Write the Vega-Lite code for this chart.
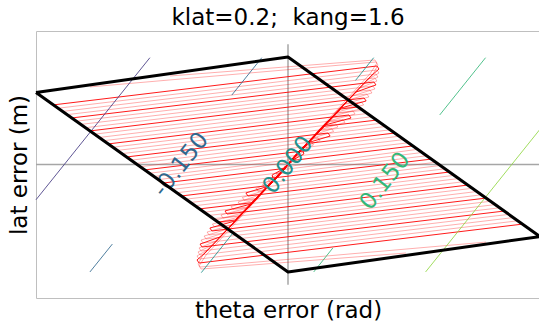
{
  "$schema": "https://vega.github.io/schema/vega-lite/v6.json",
  "width": 504,
  "height": 267,
  "autosize": "none",
  "padding": {"left": 36, "top": 31, "right": 0, "bottom": 32},
  "title": {"text": "klat=0.2; \u00a0kang=1.6", "font": "DejaVu Sans", "fontSize": 23, "fontWeight": "normal", "color": "black", "anchor": "middle", "baseline": "alphabetic", "offset": 8, "dy": 25},
  "config": {
    "view": {"stroke": "#bfbfbf", "strokeWidth": 1},
    "axis": {"grid": false, "ticks": false, "labels": false, "domain": false, "titleFont": "DejaVu Sans", "titleFontSize": 23, "titleFontWeight": "normal", "titleColor": "black"},
    "axisX": {"titlePadding": 1},
    "axisY": {"titlePadding": 5}
  },
  "datasets": {
    "axes": [
      {"x": -1, "x2": 1, "y": 0, "y2": 0},
      {"x": 0, "x2": 0, "y": -0.9, "y2": 0.9}
    ],
    "main": [
      {"id": "T0", "o": 0, "x": -0.933, "y": 0.446}, {"id": "T0", "o": 1, "x": 0.353, "y": 0.738}, {"id": "T0", "o": 2, "x": 0.361, "y": 0.715}, {"id": "T0", "o": 3, "x": 0.329, "y": 0.663}, {"id": "T0", "o": 4, "x": 0.020, "y": 0.049}, {"id": "T0", "o": 5, "x": 0, "y": 0},
      {"id": "T1", "o": 0, "x": -0.861, "y": 0.348}, {"id": "T1", "o": 1, "x": 0.341, "y": 0.618}, {"id": "T1", "o": 2, "x": 0.349, "y": 0.596}, {"id": "T1", "o": 3, "x": 0.270, "y": 0.543}, {"id": "T1", "o": 4, "x": 0.020, "y": 0.049}, {"id": "T1", "o": 5, "x": 0, "y": 0},
      {"id": "T2", "o": 0, "x": -0.788, "y": 0.251}, {"id": "T2", "o": 1, "x": 0.302, "y": 0.498}, {"id": "T2", "o": 2, "x": 0.310, "y": 0.476}, {"id": "T2", "o": 3, "x": 0.210, "y": 0.423}, {"id": "T2", "o": 4, "x": 0.020, "y": 0.049}, {"id": "T2", "o": 5, "x": 0, "y": 0},
      {"id": "T3", "o": 0, "x": -0.714, "y": 0.154}, {"id": "T3", "o": 1, "x": 0.242, "y": 0.371}, {"id": "T3", "o": 2, "x": 0.250, "y": 0.348}, {"id": "T3", "o": 3, "x": 0.147, "y": 0.296}, {"id": "T3", "o": 4, "x": 0.020, "y": 0.049}, {"id": "T3", "o": 5, "x": 0, "y": 0},
      {"id": "T4", "o": 0, "x": -0.643, "y": 0.056}, {"id": "T4", "o": 1, "x": 0.159, "y": 0.236}, {"id": "T4", "o": 2, "x": 0.167, "y": 0.213}, {"id": "T4", "o": 3, "x": 0.075, "y": 0.161}, {"id": "T4", "o": 4, "x": 0.020, "y": 0.049}, {"id": "T4", "o": 5, "x": 0, "y": 0},
      {"id": "T5", "o": 0, "x": -0.571, "y": -0.041}, {"id": "T5", "o": 1, "x": 0.060, "y": 0.101}, {"id": "T5", "o": 2, "x": 0.063, "y": 0.079}, {"id": "T5", "o": 3, "x": 0.012, "y": 0.026}, {"id": "T5", "o": 4, "x": 0, "y": 0},
      {"id": "T6", "o": 0, "x": -0.496, "y": -0.139}, {"id": "T6", "o": 1, "x": -0.016, "y": -0.030}, {"id": "T6", "o": 2, "x": 0, "y": 0},
      {"id": "T7", "o": 0, "x": -0.425, "y": -0.236}, {"id": "T7", "o": 1, "x": -0.079, "y": -0.158}, {"id": "T7", "o": 2, "x": 0, "y": 0},
      {"id": "T8", "o": 0, "x": -0.353, "y": -0.333}, {"id": "T8", "o": 1, "x": -0.143, "y": -0.286}, {"id": "T8", "o": 2, "x": 0, "y": 0},
      {"id": "T9", "o": 0, "x": -0.278, "y": -0.431}, {"id": "T9", "o": 1, "x": -0.210, "y": -0.416}, {"id": "T9", "o": 2, "x": 0, "y": 0},
      {"id": "R0", "o": 0, "x": 0.933, "y": -0.446}, {"id": "R0", "o": 1, "x": -0.353, "y": -0.738}, {"id": "R0", "o": 2, "x": -0.361, "y": -0.715}, {"id": "R0", "o": 3, "x": -0.329, "y": -0.663}, {"id": "R0", "o": 4, "x": -0.020, "y": -0.049}, {"id": "R0", "o": 5, "x": 0, "y": 0},
      {"id": "R1", "o": 0, "x": 0.861, "y": -0.348}, {"id": "R1", "o": 1, "x": -0.341, "y": -0.618}, {"id": "R1", "o": 2, "x": -0.349, "y": -0.596}, {"id": "R1", "o": 3, "x": -0.270, "y": -0.543}, {"id": "R1", "o": 4, "x": -0.020, "y": -0.049}, {"id": "R1", "o": 5, "x": 0, "y": 0},
      {"id": "R2", "o": 0, "x": 0.788, "y": -0.251}, {"id": "R2", "o": 1, "x": -0.302, "y": -0.498}, {"id": "R2", "o": 2, "x": -0.310, "y": -0.476}, {"id": "R2", "o": 3, "x": -0.210, "y": -0.423}, {"id": "R2", "o": 4, "x": -0.020, "y": -0.049}, {"id": "R2", "o": 5, "x": 0, "y": 0},
      {"id": "R3", "o": 0, "x": 0.714, "y": -0.154}, {"id": "R3", "o": 1, "x": -0.242, "y": -0.371}, {"id": "R3", "o": 2, "x": -0.250, "y": -0.348}, {"id": "R3", "o": 3, "x": -0.147, "y": -0.296}, {"id": "R3", "o": 4, "x": -0.020, "y": -0.049}, {"id": "R3", "o": 5, "x": 0, "y": 0},
      {"id": "R4", "o": 0, "x": 0.643, "y": -0.056}, {"id": "R4", "o": 1, "x": -0.159, "y": -0.236}, {"id": "R4", "o": 2, "x": -0.167, "y": -0.213}, {"id": "R4", "o": 3, "x": -0.075, "y": -0.161}, {"id": "R4", "o": 4, "x": -0.020, "y": -0.049}, {"id": "R4", "o": 5, "x": 0, "y": 0},
      {"id": "R5", "o": 0, "x": 0.571, "y": 0.041}, {"id": "R5", "o": 1, "x": -0.060, "y": -0.101}, {"id": "R5", "o": 2, "x": -0.063, "y": -0.079}, {"id": "R5", "o": 3, "x": -0.012, "y": -0.026}, {"id": "R5", "o": 4, "x": 0, "y": 0},
      {"id": "R6", "o": 0, "x": 0.496, "y": 0.139}, {"id": "R6", "o": 1, "x": 0.016, "y": 0.030}, {"id": "R6", "o": 2, "x": 0, "y": 0},
      {"id": "R7", "o": 0, "x": 0.425, "y": 0.236}, {"id": "R7", "o": 1, "x": 0.079, "y": 0.158}, {"id": "R7", "o": 2, "x": 0, "y": 0},
      {"id": "R8", "o": 0, "x": 0.353, "y": 0.333}, {"id": "R8", "o": 1, "x": 0.143, "y": 0.286}, {"id": "R8", "o": 2, "x": 0, "y": 0},
      {"id": "R9", "o": 0, "x": 0.278, "y": 0.431}, {"id": "R9", "o": 1, "x": 0.210, "y": 0.416}, {"id": "R9", "o": 2, "x": 0, "y": 0}
    ],
    "light": [
      {"id": "L01", "o": 0, "x": -0.915, "y": 0.421}, {"id": "L01", "o": 1, "x": 0.353, "y": 0.708}, {"id": "L01", "o": 2, "x": 0.361, "y": 0.685}, {"id": "L01", "o": 3, "x": 0.313, "y": 0.633}, {"id": "L01", "o": 4, "x": 0.020, "y": 0.049}, {"id": "L01", "o": 5, "x": 0, "y": 0},
      {"id": "L02", "o": 0, "x": -0.897, "y": 0.397}, {"id": "L02", "o": 1, "x": 0.349, "y": 0.678}, {"id": "L02", "o": 2, "x": 0.357, "y": 0.655}, {"id": "L02", "o": 3, "x": 0.300, "y": 0.603}, {"id": "L02", "o": 4, "x": 0.020, "y": 0.049}, {"id": "L02", "o": 5, "x": 0, "y": 0},
      {"id": "L03", "o": 0, "x": -0.879, "y": 0.373}, {"id": "L03", "o": 1, "x": 0.345, "y": 0.648}, {"id": "L03", "o": 2, "x": 0.353, "y": 0.625}, {"id": "L03", "o": 3, "x": 0.284, "y": 0.573}, {"id": "L03", "o": 4, "x": 0.020, "y": 0.049}, {"id": "L03", "o": 5, "x": 0, "y": 0},
      {"id": "L11", "o": 0, "x": -0.842, "y": 0.324}, {"id": "L11", "o": 1, "x": 0.337, "y": 0.588}, {"id": "L11", "o": 2, "x": 0.345, "y": 0.566}, {"id": "L11", "o": 3, "x": 0.254, "y": 0.513}, {"id": "L11", "o": 4, "x": 0.020, "y": 0.049}, {"id": "L11", "o": 5, "x": 0, "y": 0},
      {"id": "L12", "o": 0, "x": -0.824, "y": 0.300}, {"id": "L12", "o": 1, "x": 0.325, "y": 0.558}, {"id": "L12", "o": 2, "x": 0.333, "y": 0.536}, {"id": "L12", "o": 3, "x": 0.239, "y": 0.483}, {"id": "L12", "o": 4, "x": 0.020, "y": 0.049}, {"id": "L12", "o": 5, "x": 0, "y": 0},
      {"id": "L13", "o": 0, "x": -0.806, "y": 0.275}, {"id": "L13", "o": 1, "x": 0.313, "y": 0.528}, {"id": "L13", "o": 2, "x": 0.321, "y": 0.506}, {"id": "L13", "o": 3, "x": 0.224, "y": 0.453}, {"id": "L13", "o": 4, "x": 0.020, "y": 0.049}, {"id": "L13", "o": 5, "x": 0, "y": 0},
      {"id": "L21", "o": 0, "x": -0.769, "y": 0.227}, {"id": "L21", "o": 1, "x": 0.292, "y": 0.468}, {"id": "L21", "o": 2, "x": 0.300, "y": 0.446}, {"id": "L21", "o": 3, "x": 0.194, "y": 0.393}, {"id": "L21", "o": 4, "x": 0.020, "y": 0.049}, {"id": "L21", "o": 5, "x": 0, "y": 0},
      {"id": "L22", "o": 0, "x": -0.751, "y": 0.202}, {"id": "L22", "o": 1, "x": 0.278, "y": 0.438}, {"id": "L22", "o": 2, "x": 0.286, "y": 0.416}, {"id": "L22", "o": 3, "x": 0.179, "y": 0.363}, {"id": "L22", "o": 4, "x": 0.020, "y": 0.049}, {"id": "L22", "o": 5, "x": 0, "y": 0},
      {"id": "L23", "o": 0, "x": -0.733, "y": 0.178}, {"id": "L23", "o": 1, "x": 0.258, "y": 0.401}, {"id": "L23", "o": 2, "x": 0.266, "y": 0.378}, {"id": "L23", "o": 3, "x": 0.160, "y": 0.326}, {"id": "L23", "o": 4, "x": 0.020, "y": 0.049}, {"id": "L23", "o": 5, "x": 0, "y": 0},
      {"id": "L31", "o": 0, "x": -0.697, "y": 0.129}, {"id": "L31", "o": 1, "x": 0.218, "y": 0.337}, {"id": "L31", "o": 2, "x": 0.226, "y": 0.315}, {"id": "L31", "o": 3, "x": 0.127, "y": 0.262}, {"id": "L31", "o": 4, "x": 0.020, "y": 0.049}, {"id": "L31", "o": 5, "x": 0, "y": 0},
      {"id": "L32", "o": 0, "x": -0.679, "y": 0.105}, {"id": "L32", "o": 1, "x": 0.190, "y": 0.303}, {"id": "L32", "o": 2, "x": 0.198, "y": 0.281}, {"id": "L32", "o": 3, "x": 0.111, "y": 0.228}, {"id": "L32", "o": 4, "x": 0.020, "y": 0.049}, {"id": "L32", "o": 5, "x": 0, "y": 0},
      {"id": "L33", "o": 0, "x": -0.660, "y": 0.081}, {"id": "L33", "o": 1, "x": 0.173, "y": 0.270}, {"id": "L33", "o": 2, "x": 0.181, "y": 0.247}, {"id": "L33", "o": 3, "x": 0.094, "y": 0.195}, {"id": "L33", "o": 4, "x": 0.020, "y": 0.049}, {"id": "L33", "o": 5, "x": 0, "y": 0},
      {"id": "L41", "o": 0, "x": -0.624, "y": 0.032}, {"id": "L41", "o": 1, "x": 0.119, "y": 0.202}, {"id": "L41", "o": 2, "x": 0.127, "y": 0.180}, {"id": "L41", "o": 3, "x": 0.060, "y": 0.127}, {"id": "L41", "o": 4, "x": 0, "y": 0},
      {"id": "L42", "o": 0, "x": -0.606, "y": 0.007}, {"id": "L42", "o": 1, "x": 0.093, "y": 0.169}, {"id": "L42", "o": 2, "x": 0.101, "y": 0.146}, {"id": "L42", "o": 3, "x": 0.043, "y": 0.094}, {"id": "L42", "o": 4, "x": 0, "y": 0},
      {"id": "L43", "o": 0, "x": -0.588, "y": -0.017}, {"id": "L43", "o": 1, "x": 0.071, "y": 0.135}, {"id": "L43", "o": 2, "x": 0.079, "y": 0.112}, {"id": "L43", "o": 3, "x": 0.026, "y": 0.060}, {"id": "L43", "o": 4, "x": 0, "y": 0},
      {"id": "L51", "o": 0, "x": -0.552, "y": -0.066}, {"id": "L51", "o": 1, "x": 0.048, "y": 0.071}, {"id": "L51", "o": 2, "x": 0, "y": 0},
      {"id": "L52", "o": 0, "x": -0.533, "y": -0.090}, {"id": "L52", "o": 1, "x": 0.032, "y": 0.041}, {"id": "L52", "o": 2, "x": 0, "y": 0},
      {"id": "L53", "o": 0, "x": -0.516, "y": -0.114}, {"id": "L53", "o": 1, "x": 0.016, "y": 0.019}, {"id": "L53", "o": 2, "x": 0, "y": 0},
      {"id": "L61", "o": 0, "x": -0.479, "y": -0.163}, {"id": "L61", "o": 1, "x": -0.031, "y": -0.062}, {"id": "L61", "o": 2, "x": 0, "y": 0},
      {"id": "L62", "o": 0, "x": -0.461, "y": -0.187}, {"id": "L62", "o": 1, "x": -0.047, "y": -0.094}, {"id": "L62", "o": 2, "x": 0, "y": 0},
      {"id": "L63", "o": 0, "x": -0.443, "y": -0.212}, {"id": "L63", "o": 1, "x": -0.063, "y": -0.126}, {"id": "L63", "o": 2, "x": 0, "y": 0},
      {"id": "L71", "o": 0, "x": -0.406, "y": -0.260}, {"id": "L71", "o": 1, "x": -0.096, "y": -0.190}, {"id": "L71", "o": 2, "x": 0, "y": 0},
      {"id": "L72", "o": 0, "x": -0.388, "y": -0.285}, {"id": "L72", "o": 1, "x": -0.112, "y": -0.222}, {"id": "L72", "o": 2, "x": 0, "y": 0},
      {"id": "L73", "o": 0, "x": -0.370, "y": -0.309}, {"id": "L73", "o": 1, "x": -0.128, "y": -0.254}, {"id": "L73", "o": 2, "x": 0, "y": 0},
      {"id": "L81", "o": 0, "x": -0.334, "y": -0.358}, {"id": "L81", "o": 1, "x": -0.160, "y": -0.318}, {"id": "L81", "o": 2, "x": 0, "y": 0},
      {"id": "L82", "o": 0, "x": -0.315, "y": -0.382}, {"id": "L82", "o": 1, "x": -0.176, "y": -0.351}, {"id": "L82", "o": 2, "x": 0, "y": 0},
      {"id": "L83", "o": 0, "x": -0.297, "y": -0.406}, {"id": "L83", "o": 1, "x": -0.192, "y": -0.383}, {"id": "L83", "o": 2, "x": 0, "y": 0},
      {"id": "E1", "o": 0, "x": -0.786, "y": 0.581}, {"id": "E1", "o": 1, "x": 0.349, "y": 0.768}, {"id": "E1", "o": 2, "x": 0.357, "y": 0.745}, {"id": "E1", "o": 3, "x": 0.333, "y": 0.663}, {"id": "E1", "o": 4, "x": 0.020, "y": 0.049}, {"id": "E1", "o": 5, "x": 0, "y": 0},
      {"id": "E2", "o": 0, "x": -0.468, "y": 0.663}, {"id": "E2", "o": 1, "x": 0.345, "y": 0.783}, {"id": "E2", "o": 2, "x": 0.353, "y": 0.760}, {"id": "E2", "o": 3, "x": 0.325, "y": 0.678}, {"id": "E2", "o": 4, "x": 0.020, "y": 0.049}, {"id": "E2", "o": 5, "x": 0, "y": 0},
      {"id": "M01", "o": 0, "x": 0.915, "y": -0.421}, {"id": "M01", "o": 1, "x": -0.353, "y": -0.708}, {"id": "M01", "o": 2, "x": -0.361, "y": -0.685}, {"id": "M01", "o": 3, "x": -0.313, "y": -0.633}, {"id": "M01", "o": 4, "x": -0.020, "y": -0.049}, {"id": "M01", "o": 5, "x": 0, "y": 0},
      {"id": "M02", "o": 0, "x": 0.897, "y": -0.397}, {"id": "M02", "o": 1, "x": -0.349, "y": -0.678}, {"id": "M02", "o": 2, "x": -0.357, "y": -0.655}, {"id": "M02", "o": 3, "x": -0.300, "y": -0.603}, {"id": "M02", "o": 4, "x": -0.020, "y": -0.049}, {"id": "M02", "o": 5, "x": 0, "y": 0},
      {"id": "M03", "o": 0, "x": 0.879, "y": -0.373}, {"id": "M03", "o": 1, "x": -0.345, "y": -0.648}, {"id": "M03", "o": 2, "x": -0.353, "y": -0.625}, {"id": "M03", "o": 3, "x": -0.284, "y": -0.573}, {"id": "M03", "o": 4, "x": -0.020, "y": -0.049}, {"id": "M03", "o": 5, "x": 0, "y": 0},
      {"id": "M11", "o": 0, "x": 0.842, "y": -0.324}, {"id": "M11", "o": 1, "x": -0.337, "y": -0.588}, {"id": "M11", "o": 2, "x": -0.345, "y": -0.566}, {"id": "M11", "o": 3, "x": -0.254, "y": -0.513}, {"id": "M11", "o": 4, "x": -0.020, "y": -0.049}, {"id": "M11", "o": 5, "x": 0, "y": 0},
      {"id": "M12", "o": 0, "x": 0.824, "y": -0.300}, {"id": "M12", "o": 1, "x": -0.325, "y": -0.558}, {"id": "M12", "o": 2, "x": -0.333, "y": -0.536}, {"id": "M12", "o": 3, "x": -0.239, "y": -0.483}, {"id": "M12", "o": 4, "x": -0.020, "y": -0.049}, {"id": "M12", "o": 5, "x": 0, "y": 0},
      {"id": "M13", "o": 0, "x": 0.806, "y": -0.275}, {"id": "M13", "o": 1, "x": -0.313, "y": -0.528}, {"id": "M13", "o": 2, "x": -0.321, "y": -0.506}, {"id": "M13", "o": 3, "x": -0.224, "y": -0.453}, {"id": "M13", "o": 4, "x": -0.020, "y": -0.049}, {"id": "M13", "o": 5, "x": 0, "y": 0},
      {"id": "M21", "o": 0, "x": 0.769, "y": -0.227}, {"id": "M21", "o": 1, "x": -0.292, "y": -0.468}, {"id": "M21", "o": 2, "x": -0.300, "y": -0.446}, {"id": "M21", "o": 3, "x": -0.194, "y": -0.393}, {"id": "M21", "o": 4, "x": -0.020, "y": -0.049}, {"id": "M21", "o": 5, "x": 0, "y": 0},
      {"id": "M22", "o": 0, "x": 0.751, "y": -0.202}, {"id": "M22", "o": 1, "x": -0.278, "y": -0.438}, {"id": "M22", "o": 2, "x": -0.286, "y": -0.416}, {"id": "M22", "o": 3, "x": -0.179, "y": -0.363}, {"id": "M22", "o": 4, "x": -0.020, "y": -0.049}, {"id": "M22", "o": 5, "x": 0, "y": 0},
      {"id": "M23", "o": 0, "x": 0.733, "y": -0.178}, {"id": "M23", "o": 1, "x": -0.258, "y": -0.401}, {"id": "M23", "o": 2, "x": -0.266, "y": -0.378}, {"id": "M23", "o": 3, "x": -0.160, "y": -0.326}, {"id": "M23", "o": 4, "x": -0.020, "y": -0.049}, {"id": "M23", "o": 5, "x": 0, "y": 0},
      {"id": "M31", "o": 0, "x": 0.697, "y": -0.129}, {"id": "M31", "o": 1, "x": -0.218, "y": -0.337}, {"id": "M31", "o": 2, "x": -0.226, "y": -0.315}, {"id": "M31", "o": 3, "x": -0.127, "y": -0.262}, {"id": "M31", "o": 4, "x": -0.020, "y": -0.049}, {"id": "M31", "o": 5, "x": 0, "y": 0},
      {"id": "M32", "o": 0, "x": 0.679, "y": -0.105}, {"id": "M32", "o": 1, "x": -0.190, "y": -0.303}, {"id": "M32", "o": 2, "x": -0.198, "y": -0.281}, {"id": "M32", "o": 3, "x": -0.111, "y": -0.228}, {"id": "M32", "o": 4, "x": -0.020, "y": -0.049}, {"id": "M32", "o": 5, "x": 0, "y": 0},
      {"id": "M33", "o": 0, "x": 0.660, "y": -0.081}, {"id": "M33", "o": 1, "x": -0.173, "y": -0.270}, {"id": "M33", "o": 2, "x": -0.181, "y": -0.247}, {"id": "M33", "o": 3, "x": -0.094, "y": -0.195}, {"id": "M33", "o": 4, "x": -0.020, "y": -0.049}, {"id": "M33", "o": 5, "x": 0, "y": 0},
      {"id": "M41", "o": 0, "x": 0.624, "y": -0.032}, {"id": "M41", "o": 1, "x": -0.119, "y": -0.202}, {"id": "M41", "o": 2, "x": -0.127, "y": -0.180}, {"id": "M41", "o": 3, "x": -0.060, "y": -0.127}, {"id": "M41", "o": 4, "x": 0, "y": 0},
      {"id": "M42", "o": 0, "x": 0.606, "y": -0.007}, {"id": "M42", "o": 1, "x": -0.093, "y": -0.169}, {"id": "M42", "o": 2, "x": -0.101, "y": -0.146}, {"id": "M42", "o": 3, "x": -0.043, "y": -0.094}, {"id": "M42", "o": 4, "x": 0, "y": 0},
      {"id": "M43", "o": 0, "x": 0.588, "y": 0.017}, {"id": "M43", "o": 1, "x": -0.071, "y": -0.135}, {"id": "M43", "o": 2, "x": -0.079, "y": -0.112}, {"id": "M43", "o": 3, "x": -0.026, "y": -0.060}, {"id": "M43", "o": 4, "x": 0, "y": 0},
      {"id": "M51", "o": 0, "x": 0.552, "y": 0.066}, {"id": "M51", "o": 1, "x": -0.048, "y": -0.071}, {"id": "M51", "o": 2, "x": 0, "y": 0},
      {"id": "M52", "o": 0, "x": 0.533, "y": 0.090}, {"id": "M52", "o": 1, "x": -0.032, "y": -0.041}, {"id": "M52", "o": 2, "x": 0, "y": 0},
      {"id": "M53", "o": 0, "x": 0.516, "y": 0.114}, {"id": "M53", "o": 1, "x": -0.016, "y": -0.019}, {"id": "M53", "o": 2, "x": 0, "y": 0},
      {"id": "M61", "o": 0, "x": 0.479, "y": 0.163}, {"id": "M61", "o": 1, "x": 0.031, "y": 0.062}, {"id": "M61", "o": 2, "x": 0, "y": 0},
      {"id": "M62", "o": 0, "x": 0.461, "y": 0.187}, {"id": "M62", "o": 1, "x": 0.047, "y": 0.094}, {"id": "M62", "o": 2, "x": 0, "y": 0},
      {"id": "M63", "o": 0, "x": 0.443, "y": 0.212}, {"id": "M63", "o": 1, "x": 0.063, "y": 0.126}, {"id": "M63", "o": 2, "x": 0, "y": 0},
      {"id": "M71", "o": 0, "x": 0.406, "y": 0.260}, {"id": "M71", "o": 1, "x": 0.096, "y": 0.190}, {"id": "M71", "o": 2, "x": 0, "y": 0},
      {"id": "M72", "o": 0, "x": 0.388, "y": 0.285}, {"id": "M72", "o": 1, "x": 0.112, "y": 0.222}, {"id": "M72", "o": 2, "x": 0, "y": 0},
      {"id": "M73", "o": 0, "x": 0.370, "y": 0.309}, {"id": "M73", "o": 1, "x": 0.128, "y": 0.254}, {"id": "M73", "o": 2, "x": 0, "y": 0},
      {"id": "M81", "o": 0, "x": 0.334, "y": 0.358}, {"id": "M81", "o": 1, "x": 0.160, "y": 0.318}, {"id": "M81", "o": 2, "x": 0, "y": 0},
      {"id": "M82", "o": 0, "x": 0.315, "y": 0.382}, {"id": "M82", "o": 1, "x": 0.176, "y": 0.351}, {"id": "M82", "o": 2, "x": 0, "y": 0},
      {"id": "M83", "o": 0, "x": 0.297, "y": 0.406}, {"id": "M83", "o": 1, "x": 0.192, "y": 0.383}, {"id": "M83", "o": 2, "x": 0, "y": 0},
      {"id": "F1", "o": 0, "x": 0.786, "y": -0.581}, {"id": "F1", "o": 1, "x": -0.349, "y": -0.768}, {"id": "F1", "o": 2, "x": -0.357, "y": -0.745}, {"id": "F1", "o": 3, "x": -0.333, "y": -0.663}, {"id": "F1", "o": 4, "x": -0.020, "y": -0.049}, {"id": "F1", "o": 5, "x": 0, "y": 0},
      {"id": "F2", "o": 0, "x": 0.468, "y": -0.663}, {"id": "F2", "o": 1, "x": -0.345, "y": -0.783}, {"id": "F2", "o": 2, "x": -0.353, "y": -0.760}, {"id": "F2", "o": 3, "x": -0.325, "y": -0.678}, {"id": "F2", "o": 4, "x": -0.020, "y": -0.049}, {"id": "F2", "o": 5, "x": 0, "y": 0}
    ],
    "contours": [
      {"level": -0.3, "id": "a1", "o": 0, "x": -1.0, "y": -0.264}, {"level": -0.3, "id": "a1", "o": 1, "x": -0.548, "y": 0.80},
      {"level": -0.15, "id": "b1", "o": 0, "x": -0.786, "y": -0.805}, {"level": -0.15, "id": "b1", "o": 1, "x": -0.697, "y": -0.596},
      {"level": -0.15, "id": "b2", "o": 0, "x": -0.223, "y": 0.52}, {"level": -0.15, "id": "b2", "o": 1, "x": -0.104, "y": 0.80},
      {"level": 0, "id": "c1", "o": 0, "x": -0.344, "y": -0.81}, {"level": 0, "id": "c1", "o": 1, "x": -0.217, "y": -0.51},
      {"level": 0, "id": "c2", "o": 0, "x": 0.268, "y": 0.63}, {"level": 0, "id": "c2", "o": 1, "x": 0.34, "y": 0.80},
      {"level": 0.15, "id": "d1", "o": 0, "x": 0.102, "y": -0.805}, {"level": 0.15, "id": "d1", "o": 1, "x": 0.178, "y": -0.625},
      {"level": 0.15, "id": "d2", "o": 0, "x": 0.602, "y": 0.371}, {"level": 0.15, "id": "d2", "o": 1, "x": 0.784, "y": 0.80},
      {"level": 0.3, "id": "e1", "o": 0, "x": 0.546, "y": -0.805}, {"level": 0.3, "id": "e1", "o": 1, "x": 1.0, "y": 0.264}
    ],
    "labels": [
      {"level": -0.15, "label": "-0.150", "x": -0.425, "y": 0.0},
      {"level": 0, "label": "0.000", "x": 0.0, "y": -0.005},
      {"level": 0.15, "label": "0.150", "x": 0.385, "y": -0.124}
    ],
    "box": [
      {"o": 0, "x": -1, "y": 0.54}, {"o": 1, "x": 0, "y": 0.805}, {"o": 2, "x": 1, "y": -0.54}, {"o": 3, "x": 0, "y": -0.805}, {"o": 4, "x": -1, "y": 0.54}
    ]
  },
  "encoding": {
    "x": {"field": "x", "type": "quantitative", "scale": {"domain": [-1, 1], "nice": false, "zero": false}, "title": "theta error (rad)"},
    "y": {"field": "y", "type": "quantitative", "scale": {"domain": [-1, 1], "nice": false, "zero": false}, "title": "lat error (m)"}
  },
  "layer": [
    {
      "data": {"name": "axes"},
      "mark": {"type": "rule", "color": "#a6a6a6", "strokeWidth": 1.5},
      "encoding": {"x2": {"field": "x2"}, "y2": {"field": "y2"}}
    },
    {
      "data": {"name": "light"},
      "mark": {"type": "line", "color": "#ff0000", "strokeWidth": 0.8, "opacity": 0.4, "strokeJoin": "round"},
      "encoding": {"detail": {"field": "id"}, "order": {"field": "o"}}
    },
    {
      "data": {"name": "main"},
      "mark": {"type": "line", "color": "#ff0000", "strokeWidth": 1, "opacity": 0.9, "strokeJoin": "round"},
      "encoding": {"detail": {"field": "id"}, "order": {"field": "o"}}
    },
    {
      "data": {"name": "contours"},
      "mark": {"type": "line", "strokeWidth": 1, "opacity": 0.85},
      "encoding": {
        "detail": {"field": "id"},
        "order": {"field": "o"},
        "color": {"field": "level", "type": "nominal", "scale": {"domain": [-0.3, -0.15, 0, 0.15, 0.3], "range": ["#443983", "#31688e", "#21918c", "#35b779", "#90d743"]}, "legend": null}
      }
    },
    {
      "data": {"name": "labels"},
      "mark": {"type": "text", "font": "DejaVu Sans", "fontSize": 23, "angle": -51.8, "align": "center", "baseline": "middle"},
      "encoding": {
        "text": {"field": "label"},
        "color": {"field": "level", "type": "nominal", "scale": {"domain": [-0.3, -0.15, 0, 0.15, 0.3], "range": ["#443983", "#31688e", "#21918c", "#35b779", "#90d743"]}, "legend": null}
      }
    },
    {
      "data": {"name": "box"},
      "mark": {"type": "line", "color": "black", "strokeWidth": 3, "strokeJoin": "round"},
      "encoding": {"order": {"field": "o"}}
    }
  ]
}
